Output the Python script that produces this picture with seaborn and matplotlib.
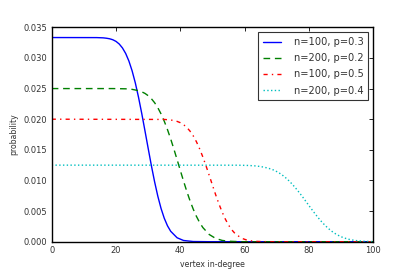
import matplotlib
matplotlib.use("Agg")
import matplotlib.pyplot as plt
import seaborn as sns
import pandas as pd

# degree / probability values
deg_a = [0, 14, 16, 17, 18, 19, 20, 21, 22, 23, 24, 25, 26, 27, 28, 29, 30, 31, 32, 33, 34, 35, 36,
         37, 39, 41, 44, 49, 100]
prob_a = [0.03333, 0.03332, 0.03328, 0.03322, 0.03313, 0.03297, 0.0327, 0.03227, 0.03163, 0.03073,
          0.0295, 0.0279, 0.02592, 0.02357, 0.02093, 0.0181, 0.01523, 0.0124, 0.00977, 0.00742,
          0.00543, 0.00383, 0.0026, 0.0017, 0.00064, 0.0002, 0.00003, 0.0, 0.0]

deg_b = [0, 19, 23, 25, 27, 28, 29, 30, 31, 32, 33, 34, 35, 36, 37, 38, 39, 40, 41, 42, 43, 44, 45,
         46, 47, 49, 51, 53, 55, 59, 100]
prob_b = [0.025, 0.025, 0.02496, 0.02487, 0.02466, 0.02447, 0.02421, 0.02384, 0.02334, 0.02269,
          0.02187, 0.02086, 0.01967, 0.0183, 0.01677, 0.01511, 0.01338, 0.01162, 0.00989, 0.00823,
          0.0067, 0.00533, 0.00414, 0.00313, 0.00231, 0.00117, 0.00053, 0.00021, 0.00008, 0.0, 0.0]

deg_c = [0, 35, 37, 39, 40, 41, 42, 43, 44, 45, 46, 47, 48, 49, 50, 51, 52, 53, 54, 55, 56, 57, 59,
         61, 63, 66, 70, 100]
prob_c = [0.02, 0.01996, 0.01988, 0.01964, 0.01943, 0.01911, 0.01866, 0.01806, 0.01729, 0.01632,
          0.01516, 0.01383, 0.01236, 0.0108, 0.0092, 0.00764, 0.00617, 0.00484, 0.00368, 0.00271,
          0.00194, 0.00134, 0.00057, 0.00021, 0.00007, 0.00001, 0.0, 0.0]

deg_d = [0, 58, 61, 63, 65, 67, 68, 69, 70, 71, 72, 73, 74, 75, 76, 77, 78, 79, 80, 81, 82, 83, 84,
         85, 86, 87, 88, 89, 90, 91, 92, 93, 95, 97, 100]
prob_d = [0.0125, 0.01249, 0.01245, 0.01239, 0.01227, 0.01205, 0.01189, 0.0117, 0.01144, 0.01113,
          0.01076, 0.01033, 0.00983, 0.00927, 0.00866, 0.00801, 0.00733, 0.00661, 0.00589, 0.00518,
          0.00449, 0.00383, 0.00322, 0.00267, 0.00217, 0.00174, 0.00137, 0.00107, 0.00081, 0.00061,
          0.00045, 0.00032, 0.00016, 0.00007, 0.00002]

labels = ["n=100, p=0.3", "n=200, p=0.2", "n=100, p=0.5", "n=200, p=0.4"]
colors = ["#0000ff", "#008000", "#ff0000", "#00bfbf"]
styles = ["-", (0, (4.8, 3.4)), (0, (3, 3, 1, 3)), (0, (1, 1.7))]

xticks = [0, 20, 40, 60, 80, 100]
yticks = [0.000, 0.005, 0.010, 0.015, 0.020, 0.025, 0.030, 0.035]

sns.set_style("white")
plt.rcParams["font.family"] = ["DejaVu Sans"]

fig = plt.figure(figsize=(4.15, 2.77), dpi=100)
ax = fig.add_axes([0.1246, 0.1274, 0.7749, 0.7740])

series = [(deg_a, prob_a), (deg_b, prob_b), (deg_c, prob_c), (deg_d, prob_d)]
for (xs, ys), lab, col, ls in zip(series, labels, colors, styles):
    df = pd.DataFrame({"deg": xs, "prob": ys})
    sns.lineplot(data=df, x="deg", y="prob", ax=ax, color=col, linestyle=ls,
                 linewidth=1.0, label=lab, sort=False)

ax.set_xlim(0, 100)
ax.set_ylim(0, 0.035)
ax.set_xticks(xticks)
ax.set_yticks(yticks)
ax.set_yticklabels([f"{v:.3f}" for v in yticks])
ax.tick_params(direction="in", length=2.6, width=0.6, top=True, right=True,
               labelsize=6, colors="black", labelcolor="#333333", pad=3)
for s in ax.spines.values():
    s.set_visible(True)
    s.set_color("black")
    s.set_linewidth(1.0)

ax.set_xlabel("vertex in-degree", fontsize=5.6, color="#333333", labelpad=4)
ax.set_ylabel("probability", fontsize=5.6, color="#333333", labelpad=4)

leg = ax.legend(loc="upper right", fontsize=7.1, frameon=True, fancybox=False,
                borderaxespad=0.5, handlelength=1.8, handletextpad=1.3,
                labelspacing=0.62, borderpad=0.5)
leg.get_frame().set_edgecolor("black")
leg.get_frame().set_linewidth(0.8)
for t in leg.get_texts():
    t.set_color("#333333")

fig.savefig("out.png", dpi=100)
